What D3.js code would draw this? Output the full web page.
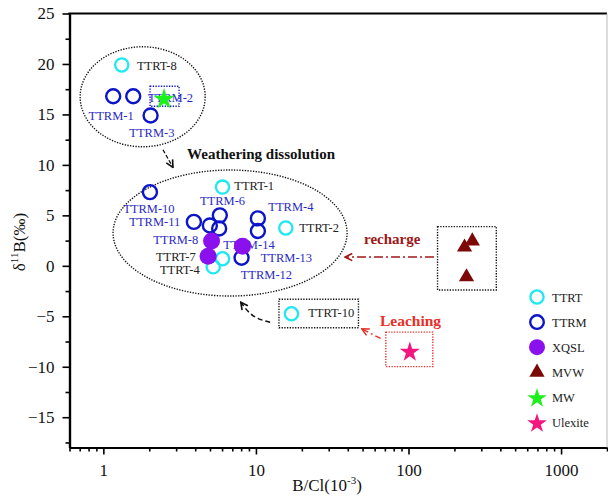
<!DOCTYPE html>
<html>
<head>
<meta charset="utf-8">
<script src="https://cdn.jsdelivr.net/npm/d3@7"></script>
<style>
body { margin: 0; background: #fff; }
svg text { font-family: "Liberation Serif", "Times New Roman", serif; }
</style>
</head>
<body>
<script>
// values: [B/Cl (10^-3), d11B (permil)]
var ttrt = [[1.32, 19.9], [6.04, 7.8], [15.7, 3.75], [6.04, 0.7], [5.25, -0.1], [17.1, -4.75]];
var ttrm = [[1.16, 16.8], [1.57, 16.8], [2.04, 14.9], [2.02, 7.3], [5.8, 5.0], [3.92, 4.35],
            [4.99, 4.0], [5.74, 3.7], [10.3, 4.7], [10.3, 3.45], [8.05, 0.8]];
var xqsl = [[5.12, 2.45], [8.17, 1.95], [4.86, 0.95]];
var mvw = [[233, 1.85], [262, 2.45], [240, -1.1]];
var mw = [[2.5, 16.6]];
var ulexite = [[102, -8.45]];

// sample labels, anchored in data units (text start, baseline)
var labels = [
  ["TTRT-8", 1.66, 19.4, "k"], ["TTRM-2", 1.96, 16.2, "b"], ["TTRM-1", 0.8, 14.45, "b"],
  ["TTRM-3", 1.48, 12.73, "b"], ["TTRM-10", 1.35, 5.2, "b"], ["TTRT-1", 7.22, 7.5, "k"],
  ["TTRM-6", 4.3, 6.0, "b"], ["TTRM-4", 12.06, 5.4, "b"], ["TTRM-11", 1.48, 3.95, "b"],
  ["TTRT-2", 19.2, 3.4, "k"], ["TTRM-8", 2.12, 2.2, "b"], ["TTRM-14", 6.11, 1.7, "b"],
  ["TTRT-7", 2.21, 0.45, "k"], ["TTRM-13", 10.75, 0.4, "b"], ["TTRT-4", 2.35, -0.85, "k"],
  ["TTRM-12", 7.95, -1.3, "b"], ["TTRT-10", 22.0, -5.1, "k"]
];

var legendNames = ["TTRT", "TTRM", "XQSL", "MVW", "MW", "Ulexite"];
var xMajor = [1, 10, 100, 1000];
var yMajor = [-15, -10, -5, 0, 5, 10, 15, 20, 25];

var cCyan = '#1fe8f2', cBlue = '#0c14c8', cPurple = '#8a10ee',
    cMaroon = '#7c0808', cGreen = '#1ef01e', cPink = '#f5157f';

var svg = d3.select('body').append('svg').attr('width', 608).attr('height', 498);

var x = d3.scaleLog().domain([0.6, 2000]).range([69.5, 607]);
var y = d3.scaleLinear().domain([-18, 25]).range([447.5, 13.5]);

// arrow heads
var defs = svg.append('defs');
function head(id, col) {
  defs.append('marker').attr('id', id)
    .attr('viewBox', '0 0 10 10').attr('refX', 9).attr('refY', 5)
    .attr('markerWidth', 9).attr('markerHeight', 9)
    .attr('markerUnits', 'userSpaceOnUse').attr('orient', 'auto')
    .append('path').attr('d', 'M1,1 L9,5 L1,9')
    .attr('fill', 'none').attr('stroke', col).attr('stroke-width', 1.8);
}
head('hk', '#111');
head('hr', '#a01818');
head('hl', '#e8302a');

// axes
var xMinor = [];
[0.1, 1, 10, 100, 1000].forEach(function(dec) {
  for (var m = 2; m <= 9; m++) {
    var v = dec * m;
    if (v >= 0.6 && v <= 2000) xMinor.push(v);
  }
});
var yMinor = d3.range(-17.5, 25, 5);

var gx = svg.append('g').attr('transform', 'translate(0,447.5)');
gx.append('g').call(d3.axisBottom(x).tickValues(xMinor).tickSize(4).tickSizeOuter(0).tickFormat(''));
gx.append('g').call(d3.axisBottom(x).tickValues(xMajor).tickSize(7).tickSizeOuter(0)
  .tickPadding(9).tickFormat(d3.format('d')));
var gy = svg.append('g').attr('transform', 'translate(69.5,0)');
gy.append('g').call(d3.axisLeft(y).tickValues(yMinor).tickSize(4).tickSizeOuter(0).tickFormat(''));
gy.append('g').call(d3.axisLeft(y).tickValues(yMajor).tickSize(7).tickSizeOuter(0).tickPadding(8));

svg.selectAll('.domain').attr('stroke', '#000').attr('stroke-width', 2.2);
svg.selectAll('.tick line').attr('stroke', '#000').attr('stroke-width', 1.6);
svg.selectAll('.tick text').attr('fill', '#111').style('font-size', '17px');

svg.append('line').attr('x1', 68.4).attr('x2', 607).attr('y1', 13.5).attr('y2', 13.5)
  .attr('stroke', '#000').attr('stroke-width', 2.2);
svg.append('line').attr('x1', 607).attr('x2', 607).attr('y1', 13.5).attr('y2', 447.5)
  .attr('stroke', '#bbb').attr('stroke-width', 1);

// axis titles
var xt = svg.append('text').attr('x', 327).attr('y', 491).attr('text-anchor', 'middle')
  .style('font-size', '17px').attr('fill', '#111');
xt.append('tspan').text('B/Cl(10');
xt.append('tspan').text('-3').attr('dy', -7).style('font-size', '11px');
xt.append('tspan').text(')').attr('dy', 7);

var yt = svg.append('text').attr('transform', 'translate(25,242) rotate(-90)')
  .attr('text-anchor', 'middle').style('font-size', '17px').attr('fill', '#111');
yt.append('tspan').text('δ');
yt.append('tspan').text('11').attr('dy', -7).style('font-size', '11px');
yt.append('tspan').text('B(‰)').attr('dy', 7);

// grouping ellipses
var dotted = '1.3,1.4';
function ellipse(cx, cy, rx, ry) {
  svg.append('ellipse').attr('cx', x(cx)).attr('cy', y(cy)).attr('rx', rx).attr('ry', ry)
    .attr('fill', 'none').attr('stroke', '#111').attr('stroke-width', 1.4)
    .attr('stroke-dasharray', dotted);
}
ellipse(1.81, 16.75, 62.5, 50);
ellipse(6.77, 3.25, 117, 63);

// dotted boxes around groups of points
function box(data, l, r, t, b, col) {
  var xs = data.map(function(d) { return x(d[0]); });
  var ys = data.map(function(d) { return y(d[1]); });
  var x0 = d3.min(xs) - l, x1 = d3.max(xs) + r, y0 = d3.min(ys) - t, y1 = d3.max(ys) + b;
  svg.append('rect').attr('x', x0).attr('y', y0).attr('width', x1 - x0).attr('height', y1 - y0)
    .attr('fill', 'none').attr('stroke', col).attr('stroke-width', 1.4)
    .attr('stroke-dasharray', dotted);
}
box(mw, 14, 15, 12, 8, cBlue);
box([ttrt[5]], 12.5, 67, 14.5, 14, '#111');
box(mvw, 27, 24, 14.5, 13, '#111');
box(ulexite, 24, 23, 19, 15.5, '#e8302a');

// annotation arrows and notes
function arrow(pts, col, dash, mk, w) {
  var p = pts.map(function(d) { return [x(d[0]), y(d[1])]; });
  var line = pts.length == 3 ? d3.line().curve(d3.curveNatural) : d3.line();
  svg.append('path').attr('d', line(p)).attr('fill', 'none').attr('stroke', col)
    .attr('stroke-width', w).attr('stroke-dasharray', dash).attr('marker-end', 'url(#' + mk + ')');
}
arrow([[2.46, 11.5], [2.86, 9.75]], '#111', '4,2', 'hk', 1.3);
arrow([[147, 0.87], [38.4, 0.87]], '#a01818', '9,3,2,3', 'hr', 1.6);
arrow([[65.7, -7.2], [49.4, -6.25]], '#e8302a', '6,3,2,3', 'hl', 1.4);
arrow([[12.4, -5.6], [9.6, -4.95], [7.95, -3.6]], '#111', '5,3', 'hk', 1.5);

function note(t, dx, dy, col, size) {
  svg.append('text').attr('x', x(dx)).attr('y', y(dy)).text(t)
    .attr('fill', col).style('font-size', size).style('font-weight', 'bold');
}
note('Weathering dissolution', 3.54, 10.6, '#111', '15px');
note('recharge', 51.1, 2.16, '#9b1818', '15px');
note('Leaching', 65, -5.96, '#e8302a', '15.5px');

// sample labels (drawn under the symbols)
svg.selectAll('text.lab').data(labels).enter().append('text').attr('class', 'lab')
  .attr('x', function(d) { return x(d[1]); })
  .attr('y', function(d) { return y(d[2]); })
  .attr('fill', function(d) { return d[3] == 'b' ? '#2a2ac4' : '#222'; })
  .style('font-size', '12.5px')
  .text(function(d) { return d[0]; });

// symbols
var symStar = d3.symbol().type(d3.symbolStar);
var symTri = d3.symbol().type(d3.symbolTriangle).size(100);

function ring(data, r, col, w) {
  svg.append('g').selectAll('circle').data(data).enter().append('circle')
    .attr('cx', function(d) { return x(d[0]); })
    .attr('cy', function(d) { return y(d[1]); })
    .attr('r', r).attr('fill', 'none').attr('stroke', col).attr('stroke-width', w);
}
ring(ttrt, 6.6, cCyan, 2.3);
ring(ttrm, 7, cBlue, 2.4);
svg.append('g').selectAll('circle').data(xqsl).enter().append('circle')
  .attr('cx', function(d) { return x(d[0]); })
  .attr('cy', function(d) { return y(d[1]); })
  .attr('r', 8.5).attr('fill', cPurple);
svg.append('g').selectAll('path').data(mvw).enter().append('path')
  .attr('d', symTri).attr('fill', cMaroon)
  .attr('transform', function(d) { return 'translate(' + x(d[0]) + ',' + y(d[1]) + ')'; });
svg.append('g').selectAll('path').data(mw).enter().append('path')
  .attr('d', symStar.size(140)).attr('fill', cGreen)
  .attr('transform', function(d) { return 'translate(' + x(d[0]) + ',' + (y(d[1]) + 1) + ')'; });
svg.append('g').selectAll('path').data(ulexite).enter().append('path')
  .attr('d', symStar.size(125)).attr('fill', cPink)
  .attr('transform', function(d) { return 'translate(' + x(d[0]) + ',' + (y(d[1]) + 1) + ')'; });

// legend
var lg = svg.append('g').attr('transform', 'translate(537,297)');
var rows = lg.selectAll('g').data(legendNames).enter().append('g')
  .attr('transform', function(d, i) { return 'translate(0,' + (i * 25.1) + ')'; });
rows.append('text').attr('x', 15).attr('y', 4.5).style('font-size', '12.5px')
  .attr('fill', '#222').text(function(d) { return d; });
rows.each(function(d, i) {
  var g = d3.select(this);
  if (i == 0) g.append('circle').attr('r', 6.6).attr('fill', 'none').attr('stroke', cCyan).attr('stroke-width', 2.3);
  if (i == 1) g.append('circle').attr('r', 6.8).attr('fill', 'none').attr('stroke', cBlue).attr('stroke-width', 2.4);
  if (i == 2) g.append('circle').attr('r', 8).attr('fill', cPurple);
  if (i == 3) g.append('path').attr('d', symTri).attr('fill', cMaroon);
  if (i == 4) g.append('path').attr('d', symStar.size(120)).attr('fill', cGreen).attr('transform', 'translate(0,1)');
  if (i == 5) g.append('path').attr('d', symStar.size(120)).attr('fill', cPink).attr('transform', 'translate(0,1)');
});
</script>
</body>
</html>
